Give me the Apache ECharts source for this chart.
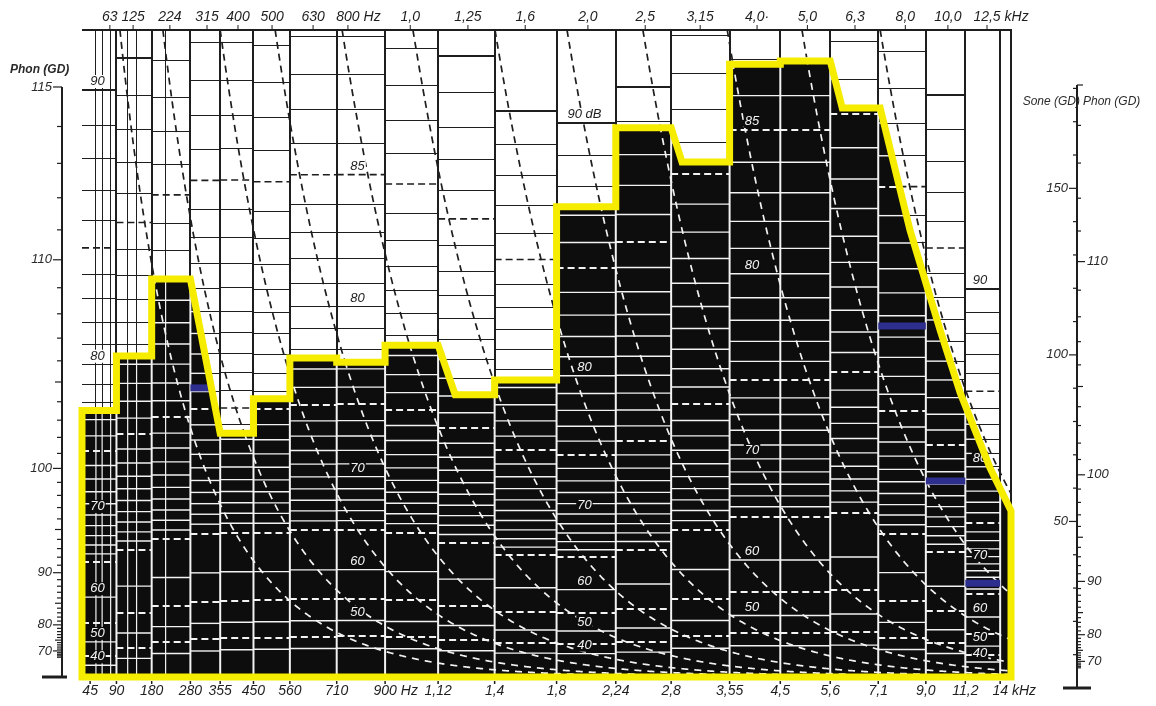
<!DOCTYPE html>
<html>
<head>
<meta charset="utf-8">
<title>Lautheitsdiagramm</title>
<script src="https://cdn.jsdelivr.net/npm/echarts@6/dist/echarts.min.js"></script>
<style>
  html, body { margin: 0; padding: 0; background: #ffffff; }
  #chart { width: 1156px; height: 706px; }
</style>
</head>
<body>
<div id="chart"></div>
<script>
// ---- band layout on the critical-band-rate axis (Bark) ----
const bandCenterLabels = ['63','125','224','315','400','500','630','800','1,0','1,25','1,6','2,0','2,5','3,15','4,0·','5,0','6,3','8,0','10,0','12,5'];
const bandCenterBark   = [0.72,1.32,2.27,3.23,4.03,4.91,5.97,6.87,8.48,9.97,11.45,13.07,14.55,15.97,17.44,18.74,19.97,21.27,22.37,23.38];
const centerUnitIndex  = [7, 19];
const centerUnitText   = ['Hz', 'kHz'];

const lowEdgeLabel = '45';
const lowEdgeBark  = 0.21;
const bandEdgeLabels = ['90','180','280','355','450','560','710','900','1,12','1,4','1,8','2,24','2,8','3,55','4,5','5,6','7,1','9,0','11,2','14'];
const bandEdgeBark   = [0.89,1.80,2.80,3.57,4.43,5.37,6.58,7.83,9.20,10.66,12.26,13.79,15.22,16.73,18.04,19.33,20.57,21.80,22.82,23.72];
const edgeUnitIndex  = [7, 19];
const edgeUnitText   = ['Hz', 'kHz'];

// thin dividers of the grouped low-frequency bands
const subBandBark = [0.36,0.52,0.74,1.18,1.41,2.16];

// per-band level ruling: loudness (sone) of the 90 dB line and the band threshold (dB)
const band90Sone      = [180.1,189.9,201,206.8,206.8,206,208.9,208.9,205,190.5,173.6,170,181,209,227.5,227.5,234,204,178.5,119];
const bandThresholdDb = [33,25,19,15,12,10,9,8,8,8,8,8,8,8,8,8,9,10,12,15];

// loudness pattern (outline of the filled area): critical-band rate / sone
const patternBark = [0,0,0.89,0.89,1.80,1.80,2.80,3.57,4.43,4.43,5.37,5.37,6.58,6.58,7.83,7.83,9.20,9.64,10.66,10.66,12.26,12.26,13.79,13.79,15.22,15.50,16.73,16.73,18.04,18.04,19.33,19.64,20.62,21.39,22.17,22.69,23.46,24.0,24.0];
const patternSone = [0,81.8,81.8,98.5,98.5,122.1,122.1,74.8,74.8,85.4,85.4,97.9,97.9,96.6,96.6,101.8,101.8,86.6,86.6,91.1,91.1,144.3,144.3,168.5,168.5,158.0,158.0,188.0,188.0,189.0,189.0,174.6,174.6,137.1,106.4,87.1,64.1,51.0,0];

// band levels lying under a masking slope
const maskedBand = [3, 17, 18, 19];
const maskedSone = [88.7, 107.7, 60.1, 28.8];

// dashed upper-slope curves: where each meets the top of the chart
const slopeStartBark = [0.98,2.09,3.57,4.99,6.72,8.55,10.67,12.53,14.49,16.67,18.60,20.62];

// level annotations (dB) printed in some bands
const curveLabelBand   = [0, 7, 11, 14, 19];
const curveLabelBark   = [0.40, 7.12, 12.98, 17.31, 23.20];
const curveLabelLevels = [[90,80,70,60,50,40],[85,80,70,60,50],[90,80,70,60,50,40],[85,80,70,60,50],[90,80,70,60,50,40]];

// side scales
const leftPhonLabels  = [70,80,90,100,110,115];
const rightPhonLabels = [70,80,90,100,110];
const rightSoneLabels = [50,100,150];

const PLOT_TOP_SONE  = 198.5;
const RIGHT_TOP_SONE = Math.pow(2, 7.5);
const EXPONENT = 0.262;
const FONT = '"Liberation Sans", "DejaVu Sans", Arial, sans-serif';
const INK = '#1e1e1e', PAPER = '#ffffff', FILL = '#0d0d0d', RULE_IN = '#f2f2f2', YELLOW = '#f6ec00', MARK = '#2d2e8e';

const phonToSone = p => Math.pow(2, (p - 40) / 10);
const bandLo = i => (i === 0 ? 0 : bandEdgeBark[i - 1]);
const bandHi = i => bandEdgeBark[i];

function levelToSone(i, L) {
  const g = l => Math.pow(1 + Math.pow(10, (l - bandThresholdDb[i]) / 10), EXPONENT) - 1;
  return band90Sone[i] * g(L) / g(90);
}

function envelope(z) {
  for (let i = 0; i < patternBark.length - 1; i++) {
    const a = patternBark[i], b = patternBark[i + 1];
    if (b > a && z >= a && z <= b) {
      return patternSone[i] + (z - a) / (b - a) * (patternSone[i + 1] - patternSone[i]);
    }
  }
  return 0;
}

// split a dense polyline into runs inside / outside the filled pattern
function runsAlong(pts) {
  const runs = [];
  let cur = null;
  for (const p of pts) {
    const inside = p[1] < envelope(p[0]);
    if (!cur || cur.inside !== inside) {
      const prev = cur ? cur.pts[cur.pts.length - 1] : null;
      cur = { inside, pts: prev ? [prev] : [] };
      runs.push(cur);
    }
    cur.pts.push(p);
  }
  return runs;
}

function hPoints(z0, z1, n) {
  const steps = Math.max(2, Math.ceil((z1 - z0) / 0.01));
  const pts = [];
  for (let k = 0; k <= steps; k++) pts.push([z0 + (z1 - z0) * k / steps, n]);
  return pts;
}

function slopePoints(z0) {
  const pts = [];
  let z = z0, lg = Math.log2(PLOT_TOP_SONE);
  const dz = 0.02;
  while (z <= 24 && lg > Math.log2(0.8)) {
    pts.push([z, Math.pow(2, lg)]);
    const r = (0.52 + 0.45 * Math.exp(-z / 2.5)) * (1 + 0.04 * Math.max(0, 7.6 - lg));
    lg -= r * dz;
    z += dz;
  }
  return pts;
}

function bandLevels() {
  const a = [];
  for (let L = 90; L >= 65; L--) a.push(L);
  for (let L = 60; L >= 40; L -= 5) a.push(L);
  return a;
}

const measureCtx = document.createElement('canvas').getContext('2d');
function textWidth(str, size) {
  measureCtx.font = 'italic ' + size + 'px ' + FONT;
  return measureCtx.measureText(str).width;
}

function txt(text, x, y, size, fill, align, valign, extra) {
  return {
    type: 'text',
    z2: 20,
    style: Object.assign({
      text: text, x: x, y: y, fill: fill,
      font: 'italic ' + size + 'px ' + FONT,
      align: align, verticalAlign: valign,
      textAlign: align, textVerticalAlign: valign
    }, extra || {})
  };
}

function seg(x1, y1, x2, y2, stroke, w, dash, z2) {
  const st = { stroke: stroke, lineWidth: w };
  if (dash) st.lineDash = dash;
  return { type: 'line', z2: z2 || 1, shape: { x1, y1, x2, y2 }, style: st };
}

// ---- ruling, slope curves, masked levels and level annotations ----
function renderRuling(params, api) {
  const kids = [];
  const P = (z, n) => api.coord([z, n]);
  const snap = (v, w) => (w === 1 ? Math.floor(v) + 0.5 : (w === 2 ? Math.round(v) : v));

  function hLine(z0, z1, n, wIn, wOut, dash, z2) {
    for (const run of runsAlong(hPoints(z0, z1, n))) {
      if (run.pts.length < 2) continue;
      const a = P(run.pts[0][0], n), b = P(run.pts[run.pts.length - 1][0], n);
      const w = run.inside ? wIn : wOut;
      const y = snap(a[1], w);
      kids.push(seg(a[0], y, b[0], y, run.inside ? RULE_IN : INK, w, dash, z2));
    }
  }
  function vLine(z, wIn, wOut) {
    const lo = Math.min(envelope(z - 1e-4), envelope(z + 1e-4));
    const xo = snap(P(z, 0)[0], wOut);
    const xi = P(z, 0)[0];
    if (lo > 0) kids.push(seg(xi, P(z, 0)[1], xi, P(z, lo)[1], RULE_IN, wIn));
    kids.push(seg(xo, P(z, lo)[1], xo, P(z, PLOT_TOP_SONE)[1], INK, wOut));
  }

  // horizontal level lines of every band
  const levels = bandLevels();
  for (let i = 0; i < band90Sone.length; i++) {
    for (const L of levels) {
      const n = levelToSone(i, L);
      if (n > PLOT_TOP_SONE - 0.3 || n < 2) continue;
      if (L === 90) hLine(bandLo(i), bandHi(i), n, 1.5, 2, null, 2);
      else if (L % 10 === 5) hLine(bandLo(i), bandHi(i), n, 2, 1.6, [7, 4], 2);
      else hLine(bandLo(i), bandHi(i), n, 1.4, 1, null, 1);
    }
  }
  // vertical band borders and sub-band dividers
  for (const z of subBandBark) vLine(z, 1.2, 1);
  for (const z of bandEdgeBark) vLine(z, 2, 2);
  vLine(24, 2, 2);
  // frame top
  const tl = P(0, PLOT_TOP_SONE), tr = P(24, PLOT_TOP_SONE);
  kids.push(seg(tl[0], Math.round(tl[1]), tr[0] + 1, Math.round(tr[1]), INK, 2, null, 3));

  // dashed masking-slope curves
  for (const z0 of slopeStartBark) {
    for (const run of runsAlong(slopePoints(z0))) {
      if (run.pts.length < 2) continue;
      kids.push({
        type: 'polyline', z2: 4,
        shape: { points: run.pts.map(p => P(p[0], p[1])) },
        style: run.inside
          ? { stroke: RULE_IN, lineWidth: 1.7, lineDash: [7, 6], fill: null }
          : { stroke: INK, lineWidth: 1.7, lineDash: [7, 5], fill: null }
      });
    }
  }

  // band levels hidden under a slope
  for (let k = 0; k < maskedBand.length; k++) {
    const i = maskedBand[k], n = maskedSone[k];
    for (const run of runsAlong(hPoints(bandLo(i), bandHi(i), n))) {
      if (!run.inside || run.pts.length < 2) continue;
      const a = P(run.pts[0][0], n), b = P(run.pts[run.pts.length - 1][0], n);
      kids.push(seg(a[0], a[1], b[0], b[1], MARK, 7, null, 6));
    }
  }

  // level annotations
  for (let g = 0; g < curveLabelBand.length; g++) {
    const i = curveLabelBand[g], z = curveLabelBark[g];
    for (const L of curveLabelLevels[g]) {
      const n = levelToSone(i, L);
      const p = P(z, n);
      const inside = n < envelope(z);
      const label = (g === 2 && L === 90) ? '90 dB' : String(L);
      kids.push(txt(label, p[0], p[1] - 2, 13, inside ? '#f4f4f4' : INK, 'center', 'bottom',
        { backgroundColor: inside ? FILL : PAPER, padding: [0, 1] }));
    }
  }
  return { type: 'group', children: kids };
}

// ---- frequency labels and the left loudness-level scale ----
function renderFrame(params, api) {
  const kids = [];
  const P = (z, n) => api.coord([z, n]);
  const yTop = P(0, PLOT_TOP_SONE)[1];
  const yBot = P(0, 0)[1];

  // band centre frequencies along the top
  bandCenterLabels.forEach((lab, k) => {
    const x = P(bandCenterBark[k], 0)[0];
    kids.push(seg(x, yTop - 5, x, yTop, INK, 1));
    kids.push(txt(lab, x, yTop - 13, 14, INK, 'center', 'middle'));
    const u = centerUnitIndex.indexOf(k);
    if (u >= 0) kids.push(txt(centerUnitText[u], x + textWidth(lab, 14) / 2 + 4, yTop - 13, 14, INK, 'left', 'middle'));
  });
  // band edge frequencies along the bottom
  const edgeLabs = [lowEdgeLabel].concat(bandEdgeLabels);
  const edgePos = [lowEdgeBark].concat(bandEdgeBark);
  edgeLabs.forEach((lab, k) => {
    const x = P(edgePos[k], 0)[0];
    kids.push(seg(x, yBot + 4, x, yBot + 7, INK, 1.5));
    kids.push(txt(lab, x, yBot + 14, 14, INK, 'center', 'middle'));
    const u = edgeUnitIndex.indexOf(k - 1);
    if (k > 0 && u >= 0) kids.push(txt(edgeUnitText[u], x + textWidth(lab, 14) / 2 + 4, yBot + 14, 14, INK, 'left', 'middle'));
  });

  // left scale: loudness level (phon) placed on the linear sone axis
  const ax = P(0, 0)[0] - 20;
  kids.push(seg(ax, yBot, ax, P(0, phonToSone(115))[1], INK, 2));
  kids.push(seg(ax - 20, yBot, ax + 5, yBot, INK, 3));
  for (let p = 66; p <= 115; p++) {
    const y = P(0, phonToSone(p))[1];
    const len = leftPhonLabels.includes(p) ? 9 : (p % 5 === 0 ? 7 : 5);
    kids.push(seg(ax - len, y, ax, y, INK, 1.2));
  }
  for (const p of leftPhonLabels) {
    kids.push(txt(String(p), ax - 10, P(0, phonToSone(p))[1], 13, '#2a2a2a', 'right', 'middle'));
  }
  kids.push(txt('Phon (GD)', ax - 52, P(0, phonToSone(115))[1] - 17, 12, '#2a2a2a', 'left', 'middle', { font: 'italic 600 12px ' + FONT }));
  return { type: 'group', children: kids };
}

// ---- right scale: total loudness (sone) and loudness level (phon) ----
function renderRightScale(params, api) {
  const kids = [];
  const ax = api.coord([0, 0])[0];
  const yOf = n => api.coord([0, n])[1];
  kids.push(seg(ax, yOf(0), ax, yOf(RIGHT_TOP_SONE), INK, 2));
  kids.push(seg(ax - 14, yOf(0), ax + 14, yOf(0), INK, 3));
  for (let p = 66; p <= 115; p++) {
    const y = yOf(phonToSone(p));
    const len = rightPhonLabels.includes(p) ? 8 : (p % 5 === 0 ? 6 : 4);
    kids.push(seg(ax, y, ax + len, y, INK, 1.2));
  }
  for (let s = 10; s <= 180; s += 10) {
    const len = rightSoneLabels.includes(s) ? 8 : 4;
    kids.push(seg(ax - len, yOf(s), ax, yOf(s), INK, 1.2));
  }
  for (const p of rightPhonLabels) kids.push(txt(String(p), ax + 10, yOf(phonToSone(p)), 13, '#2a2a2a', 'left', 'middle'));
  for (const s of rightSoneLabels) kids.push(txt(String(s), ax - 9, yOf(s), 13, '#2a2a2a', 'right', 'middle'));
  const yt = yOf(RIGHT_TOP_SONE) + 17;
  kids.push(txt('Sone (GD)', ax + 3, yt, 12, '#2a2a2a', 'right', 'middle'));
  kids.push(txt('Phon (GD)', ax + 6, yt, 12, '#2a2a2a', 'left', 'middle'));
  return { type: 'group', children: kids };
}

const patternData = patternBark.map((z, i) => [z, patternSone[i]]);

const chart = echarts.init(document.getElementById('chart'), null, { renderer: 'canvas' });
chart.setOption({
  animation: false,
  backgroundColor: PAPER,
  grid: [
    { left: 82, right: 145, top: 30, bottom: 29 },
    { left: 1077, width: 20, top: 85, bottom: 18 }
  ],
  xAxis: [
    { type: 'value', gridIndex: 0, min: 0, max: 24, show: false },
    { type: 'value', gridIndex: 1, min: 0, max: 1, show: false }
  ],
  yAxis: [
    { type: 'value', gridIndex: 0, min: 0, max: PLOT_TOP_SONE, show: false },
    { type: 'value', gridIndex: 1, min: 0, max: RIGHT_TOP_SONE, show: false }
  ],
  series: [
    {
      name: 'Lautheit', type: 'line', xAxisIndex: 0, yAxisIndex: 0,
      data: patternData, symbol: 'none', silent: true,
      lineStyle: { width: 0, opacity: 0 },
      areaStyle: { color: FILL, opacity: 1 },
      z: 1
    },
    {
      type: 'custom', xAxisIndex: 0, yAxisIndex: 0, data: [[0, 0]],
      renderItem: renderRuling, clip: false, silent: true, z: 2
    },
    {
      name: 'Kontur', type: 'line', xAxisIndex: 0, yAxisIndex: 0,
      data: patternData.concat([[0, 0]]), symbol: 'none', silent: true, clip: false,
      lineStyle: { color: YELLOW, width: 7, join: 'miter', cap: 'square' },
      z: 5
    },
    {
      type: 'custom', xAxisIndex: 0, yAxisIndex: 0, data: [[0, 0]],
      renderItem: renderFrame, clip: false, silent: true, z: 6
    },
    {
      type: 'custom', xAxisIndex: 1, yAxisIndex: 1, data: [[0, 0]],
      renderItem: renderRightScale, clip: false, silent: true, z: 6
    }
  ]
});
</script>
</body>
</html>
